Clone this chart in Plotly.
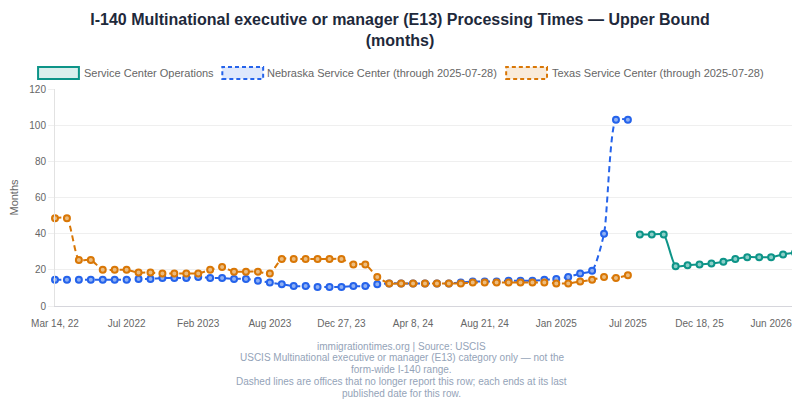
import plotly.graph_objects as go

# ---- data ----
tick_labels = ["Mar 14, 22", "Jul 2022", "Feb 2023", "Aug 2023", "Dec 27, 23",
               "Apr 8, 24", "Aug 21, 24", "Jan 2025", "Jul 2025", "Dec 18, 25", "Jun 2026"]
tick_step = 6

nebraska = [14.5, 14.5, 14.5, 14.5, 14.5, 14.5, 14.5, 15, 15, 15.5, 15.5, 15.5, 16, 15.5,
            15.5, 15, 15, 14, 13, 12, 11, 11, 10.5, 10.5, 10.5, 11, 11, 12, 12.5, 12.5,
            12.5, 12.5, 12.5, 12.5, 13, 13.5, 13.5, 13.5, 14, 14, 14, 14.5, 15, 16, 18,
            19.5, 40, 103, 103]
texas = [48.5, 48.5, 25.5, 25.5, 20, 20, 20, 18.5, 18.5, 18, 18, 18, 18, 20, 21.5, 19,
         19, 19, 18, 26, 26, 26, 26, 26, 26, 23, 23, 16, 12.5, 12.5, 12.5, 12.5, 12.5,
         12.5, 12.5, 13, 13, 13, 13, 13, 13, 13, 12.5, 12.5, 13.5, 14.5, 16, 15.5, 17]
service = [39.5, 39.5, 39.5, 22, 22.5, 23, 23.5, 24.5, 26, 27, 27, 27, 28.5, 29.5]

series_names = ["Service Center Operations",
                "Nebraska Service Center (through 2025-07-28)",
                "Texas Service Center (through 2025-07-28)"]

footer_lines = ["immigrationtimes.org | Source: USCIS",
                "USCIS Multinational executive or manager (E13) category only \u2014 not the",
                "form-wide I-140 range.",
                "Dashed lines are offices that no longer report this row; each ends at its last",
                "published date for this row."]

# ---- layout geometry (page body has an 8px margin, so the figure is 8px smaller) ----
PAGE = 8
W, H = 800 - PAGE, 400 - PAGE
ML, MR, MT, MB = 52 - PAGE, 5, 89 - PAGE, 94
PW, PH = W - ML - MR, H - MT - MB


def px_x(px):  # screen px -> paper x
    return (px - PAGE - ML) / PW


def px_y(py):  # screen px -> paper y
    return (H - MB - (py - PAGE)) / PH


TEAL, BLUE, ORANGE = "#0d9488", "#2563eb", "#d97706"
TEAL_F, BLUE_F, ORANGE_F = "rgba(13,148,136,0.15)", "rgba(37,99,235,0.15)", "rgba(217,119,6,0.15)"
FONT = "Liberation Sans, Arial, sans-serif"

n_total = len(nebraska) + len(service)
x_all = list(range(n_total))
x_old = x_all[:len(nebraska)]
x_svc = x_all[len(nebraska):]

fig = go.Figure()


def add_series(x, y, color, fill, dash):
    fig.add_trace(go.Scatter(
        x=x, y=y, mode="lines+markers", showlegend=False, cliponaxis=False,
        line=dict(color=color, width=2, dash=dash, shape="spline", smoothing=0.6),
        marker=dict(size=6, color=fill, line=dict(color=color, width=2)),
        hoverinfo="x+y",
    ))


add_series(x_old, nebraska, BLUE, "#8fb0f3", "6px,4px")
add_series(x_old, texas, ORANGE, "#ecbc7e", "6px,4px")
add_series(x_svc, service, TEAL, "#8ccfc8", "solid")

# ---- legend drawn as boxes + text ----
legend_items = [
    (35, 79, TEAL, TEAL_F, "solid"),
    (220, 263, BLUE, BLUE_F, "4px,3px"),
    (505, 549, ORANGE, ORANGE_F, "4px,3px"),
]
shapes = []
annotations = []
for (bx, tx, col, fcol, dsh), name in zip(legend_items, series_names):
    shapes.append(dict(type="rect", xref="paper", yref="paper",
                       x0=px_x(bx), x1=px_x(bx + 41), y0=px_y(79), y1=px_y(67),
                       line=dict(color=col, width=2, dash=dsh), fillcolor=fcol))
    annotations.append(dict(text=name, xref="paper", yref="paper", x=px_x(tx), y=px_y(73),
                            xanchor="left", yanchor="middle", showarrow=False,
                            font=dict(size=11, color="#666666", family=FONT)))

footer_y = [346, 357.5, 369.5, 381.5, 393]
for line, py in zip(footer_lines, footer_y):
    annotations.append(dict(text=line, xref="paper", yref="paper", x=px_x(400), y=px_y(py),
                            xanchor="center", yanchor="middle", showarrow=False,
                            font=dict(size=10, color="#94a3b8", family=FONT)))

fig.update_layout(
    width=W, height=H,
    margin=dict(l=ML, r=MR, t=MT, b=MB, pad=0),
    paper_bgcolor="white", plot_bgcolor="white",
    font=dict(family=FONT, color="#666666", size=10),
    title=dict(text="I-140 Multinational executive or manager (E13) Processing Times \u2014 Upper Bound<br>(months)",
               x=(400 - PAGE) / W, xanchor="center", xref="container",
               y=1 - 17 / H, yanchor="top", yref="container",
               font=dict(size=16, color="#1e293b", family=FONT, weight="bold")),
    xaxis=dict(range=[0, n_total - 1], showgrid=False, zeroline=False,
               showline=True, linecolor="#d6d6dc", linewidth=1,
               tickmode="array",
               tickvals=x_all[::tick_step][:len(tick_labels)], ticktext=tick_labels,
               ticks="", ticklabelstandoff=8, tickfont=dict(size=10, color="#666666")),
    yaxis=dict(range=[0, 120], dtick=20, showgrid=True, gridcolor="#efefef", gridwidth=1,
               zeroline=False, showline=True, linecolor="#e2e2e2", linewidth=1,
               ticks="outside", ticklen=6, tickcolor="#efefef",
               tickfont=dict(size=10, color="#666666"),
               title=dict(text="Months", font=dict(size=11, color="#666666"), standoff=9)),
    shapes=shapes, annotations=annotations,
    showlegend=False,
)

fig.write_html("out.html")
